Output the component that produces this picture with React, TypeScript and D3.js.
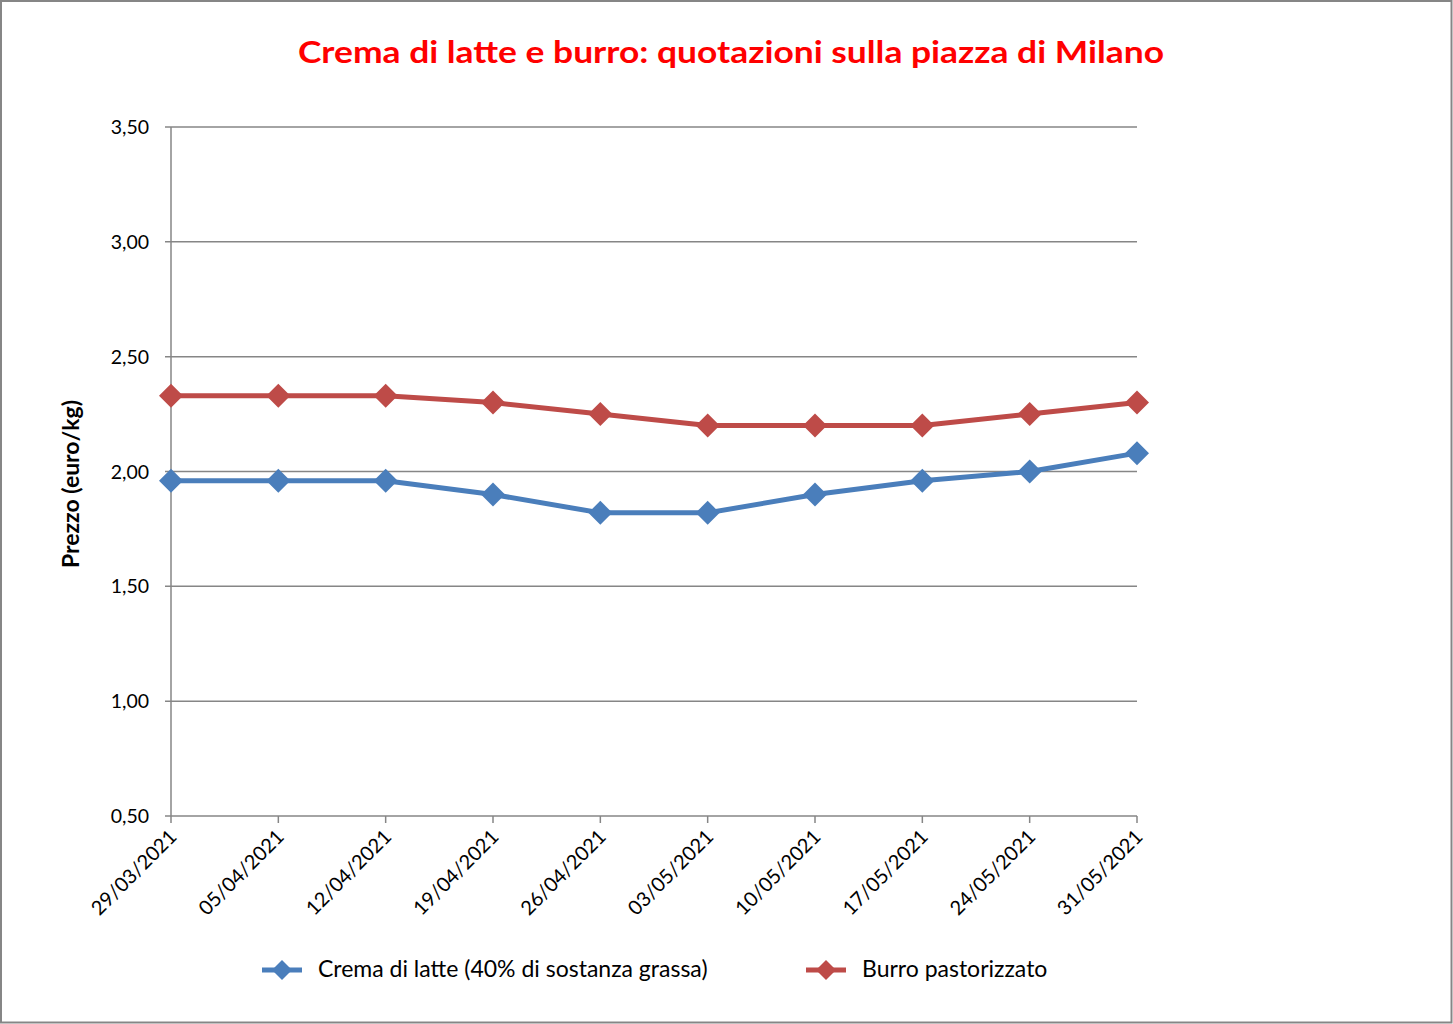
import React from "react";
import * as d3 from "d3";

const dates = ["29/03/2021","05/04/2021","12/04/2021","19/04/2021","26/04/2021","03/05/2021","10/05/2021","17/05/2021","24/05/2021","31/05/2021"];
const crema = [1.96,1.96,1.96,1.90,1.82,1.82,1.90,1.96,2.00,2.08];
const burro = [2.33,2.33,2.33,2.30,2.25,2.20,2.20,2.20,2.25,2.30];
const yTicks = [0.5,1.0,1.5,2.0,2.5,3.0,3.5];
const seriesNames = ["Crema di latte (40% di sostanza grassa)","Burro pastorizzato"];
const seriesColors = ["#4a7ebb","#be4b48"];

const W = 1453, H = 1024;
const FONT = "Lato, 'Open Sans', sans-serif";

export default function App() {
  const x = d3.scalePoint<string>().domain(dates).range([171, 1137]);
  const y = d3.scaleLinear().domain([0.5, 3.5]).range([816, 127]);
  const fmt = (v: number) => v.toFixed(2).replace(".", ",");
  const line = d3.line<number>().x((_, i) => x(dates[i])!).y(d => y(d));
  const diamond = (cx: number, cy: number, r: number) =>
    `M${cx},${cy - r}L${cx + r},${cy}L${cx},${cy + r}L${cx - r},${cy}Z`;
  const series = [crema, burro];
  const grid = "#868686";
  const legendX = [262, 806];
  return (
    <svg width={W} height={H} style={{ position: "absolute", left: 0, top: 0 }} fontFamily={FONT}>
      <rect x={1} y={1} width={W - 2.5} height={H - 2.5} fill="#fff" stroke="#868686" strokeWidth={2} />
      <text x={731} y={63} textAnchor="middle" fill="#ff0000" fontWeight="bold" fontSize={31}
        textLength={866} lengthAdjust="spacingAndGlyphs">
        Crema di latte e burro: quotazioni sulla piazza di Milano
      </text>
      {yTicks.map(t => (
        <g key={t}>
          <line x1={165} x2={1137} y1={y(t)} y2={y(t)} stroke={grid} strokeWidth={1.5} />
          <text x={149} y={y(t) + 7} textAnchor="end" fontSize={19.5} fill="#000">{fmt(t)}</text>
        </g>
      ))}
      <line x1={171} x2={171} y1={127} y2={816} stroke={grid} strokeWidth={1.5} />
      {dates.map(d => (
        <g key={d}>
          <line x1={x(d)} x2={x(d)} y1={816} y2={823} stroke={grid} strokeWidth={1.5} />
          <text transform={`translate(${x(d)! + 7},${838}) rotate(-45)`} textAnchor="end" fontSize={20} fill="#000">{d}</text>
        </g>
      ))}
      <text transform={`translate(79,484) rotate(-90)`} textAnchor="middle" fontSize={22} fontWeight="bold" fill="#000"
        textLength={168} lengthAdjust="spacingAndGlyphs">
        Prezzo (euro/kg)
      </text>
      {series.map((s, si) => (
        <g key={si}>
          <path d={line(s)!} fill="none" stroke={seriesColors[si]} strokeWidth={5} strokeLinejoin="round" />
          {s.map((v, i) => (
            <path key={i} d={diamond(x(dates[i])!, y(v), 12)} fill={seriesColors[si]} />
          ))}
        </g>
      ))}
      {seriesNames.map((n, i) => (
        <g key={n}>
          <line x1={legendX[i]} x2={legendX[i] + 40} y1={970} y2={970} stroke={seriesColors[i]} strokeWidth={5} />
          <path d={diamond(legendX[i] + 20, 970, 10)} fill={seriesColors[i]} />
          <text x={legendX[i] + 56} y={977} fontSize={23} fill="#000">{n}</text>
        </g>
      ))}
    </svg>
  );
}
